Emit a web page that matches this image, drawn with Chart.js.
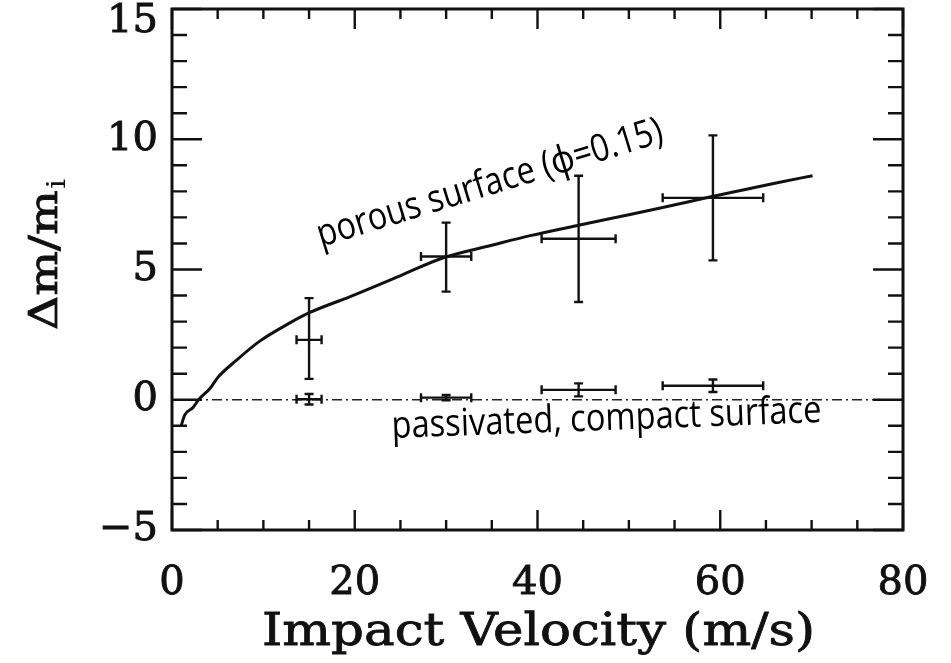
<!DOCTYPE html>
<html>
<head>
<meta charset="utf-8">
<script src="https://cdn.jsdelivr.net/npm/chart.js@4.4.0/dist/chart.umd.min.js"></script>
<style>
  html, body { margin: 0; padding: 0; background: #fff; }
  #wrap { width: 951px; height: 663px; }
</style>
</head>
<body>
<div id="wrap"><canvas id="impactChart"></canvas></div>
<script>
// model curve, porous surface (phi = 0.15)
const curveX = [1.0, 1.4, 2.3, 2.9, 4.2, 5.0, 7.0, 9.6, 12.9, 15.1, 19.5, 24.9, 29.7, 35, 39.2, 44.5, 50, 53.7, 59.1, 66.5, 70.1];
const curveY = [-1.0, -0.58, -0.3, 0.0, 0.45, 0.85, 1.5, 2.25, 2.95, 3.35, 3.96, 4.75, 5.45, 5.93, 6.3, 6.7, 7.1, 7.38, 7.8, 8.35, 8.6];

// passivated, compact surface reference line
const baseX = [0, 80];
const baseY = [0, 0];

// measurements on porous surface
const porousX = [15, 30, 44.5, 59.2];
const porousY = [2.3, 5.5, 6.18, 7.75];
const porousXErr = [1.37, 2.75, 4.05, 5.5];
const porousYLow = [0.8, 4.15, 3.75, 5.35];
const porousYHigh = [3.9, 6.8, 8.6, 10.15];

// measurements on passivated, compact surface
const compactX = [15, 30, 44.5, 59.2];
const compactY = [0.02, 0.08, 0.38, 0.54];
const compactXErr = [1.37, 2.75, 4.05, 5.5];
const compactYErr = [0.2, 0.1, 0.25, 0.24];

const xTickLabels = ['0', '20', '40', '60', '80'];
const yTickLabels = ['\u22125', '0', '5', '10', '15'];

const SERIF = '"DejaVu Serif", serif';
const SANS = '"Open Sans", "Noto Sans", sans-serif';

const toPoints = (xs, ys) => xs.map((x, i) => ({ x: x, y: ys[i] }));
const yValue = t => Number(t.replace('\u2212', '-'));

// draw text stretched to a target width, rotated about its start point
function fitText(ctx, text, x, y, font, width, angle, weight) {
  ctx.save();
  ctx.font = font;
  const w = ctx.measureText(text).width;
  ctx.translate(x, y);
  ctx.rotate(angle);
  ctx.scale(width / w, 1);
  ctx.fillText(text, 0, 0);
  if (weight) { ctx.lineWidth = weight; ctx.strokeText(text, 0, 0); }
  ctx.restore();
}

/* ====== ERROR BARS ====== */
const errorBarPlugin = {
  id: 'errorBars',
  afterDatasetsDraw(chart) {
    const { ctx, scales: { x, y } } = chart;
    const cap = 4.5;
    ctx.save();
    ctx.strokeStyle = '#111';
    ctx.lineWidth = 2.4;
    chart.data.datasets.forEach(ds => {
      if (!ds.err) return;
      ds.data.forEach((p, i) => {
        const px = x.getPixelForValue(p.x);
        const py = y.getPixelForValue(p.y);
        const xl = x.getPixelForValue(p.x - ds.err.xErr[i]);
        const xr = x.getPixelForValue(p.x + ds.err.xErr[i]);
        const yt = y.getPixelForValue(ds.err.yHigh[i]);
        const yb = y.getPixelForValue(ds.err.yLow[i]);
        ctx.beginPath();
        ctx.moveTo(xl, py); ctx.lineTo(xr, py);
        ctx.moveTo(xl, py - cap); ctx.lineTo(xl, py + cap);
        ctx.moveTo(xr, py - cap); ctx.lineTo(xr, py + cap);
        ctx.moveTo(px, yt); ctx.lineTo(px, yb);
        ctx.moveTo(px - cap, yt); ctx.lineTo(px + cap, yt);
        ctx.moveTo(px - cap, yb); ctx.lineTo(px + cap, yb);
        ctx.stroke();
      });
    });
    ctx.restore();
  }
};

/* ====== FRAME, INWARD TICKS, TITLES, NOTES ====== */
const framePlugin = {
  id: 'frame',
  afterDraw(chart) {
    const { ctx, chartArea: a, scales: { x, y } } = chart;
    ctx.save();
    ctx.strokeStyle = '#111';
    ctx.lineWidth = 2.4;
    ctx.beginPath();
    for (let v = 0; v <= 80; v += 5) {
      const px = x.getPixelForValue(v);
      const len = v % 20 === 0 ? 20 : 10;
      ctx.moveTo(px, a.bottom); ctx.lineTo(px, a.bottom - len);
      ctx.moveTo(px, a.top); ctx.lineTo(px, a.top + len);
    }
    for (let v = -5; v <= 15; v += 1) {
      const py = y.getPixelForValue(v);
      const len = v % 5 === 0 ? 30 : 15;
      ctx.moveTo(a.left, py); ctx.lineTo(a.left + len, py);
      ctx.moveTo(a.right, py); ctx.lineTo(a.right - len, py);
    }
    ctx.stroke();
    ctx.lineWidth = 3;
    ctx.strokeRect(a.left, a.top, a.right - a.left, a.bottom - a.top);

    ctx.fillStyle = '#111';
    ctx.strokeStyle = '#111';
    ctx.textBaseline = 'alphabetic';
    // x axis title
    fitText(ctx, 'Impact Velocity (m/s)', 262, 645, '44px ' + SERIF, 553, 0, 0.8);

    // y axis title with subscript
    ctx.save();
    ctx.translate(57, 330);
    ctx.rotate(-Math.PI / 2);
    ctx.font = '40px ' + SERIF;
    const main = '\u0394m/m';
    const mw = ctx.measureText(main).width;
    ctx.scale(140 / mw, 1);
    ctx.lineWidth = 0.8;
    ctx.fillText(main, 0, 0);
    ctx.strokeText(main, 0, 0);
    ctx.font = '26px ' + SERIF;
    ctx.fillText('i', mw + 1, 8);
    ctx.restore();

    // curve notes
    ctx.fillStyle = '#000';
    fitText(ctx, 'porous surface (\u03d5=0.15)', 321, 247, '38px ' + SANS, 360, -0.298);
    fitText(ctx, 'passivated, compact surface', 392, 438, '38px ' + SANS, 430, -0.037);
    ctx.restore();
  }
};

const ctx = document.getElementById('impactChart');
new Chart(ctx.getContext('2d'), {
  type: 'scatter',
  data: {
    datasets: [{
      label: 'porous surface',
      data: toPoints(curveX, curveY),
      showLine: true,
      borderColor: '#111',
      borderWidth: 3,
      pointRadius: 0,
      cubicInterpolationMode: 'monotone'
    }, {
      label: 'passivated, compact surface',
      data: toPoints(baseX, baseY),
      showLine: true,
      borderColor: '#222',
      borderWidth: 1.6,
      borderDash: [10, 4, 2, 4],
      pointRadius: 0
    }, {
      label: 'porous data',
      data: toPoints(porousX, porousY),
      pointRadius: 0,
      err: { xErr: porousXErr, yLow: porousYLow, yHigh: porousYHigh }
    }, {
      label: 'compact data',
      data: toPoints(compactX, compactY),
      pointRadius: 0,
      err: {
        xErr: compactXErr,
        yLow: compactY.map((v, i) => v - compactYErr[i]),
        yHigh: compactY.map((v, i) => v + compactYErr[i])
      }
    }]
  },
  options: {
    responsive: true,
    maintainAspectRatio: false,
    animation: false,
    layout: { padding: { top: 9, right: 48, left: 0, bottom: 0 } },
    plugins: { legend: { display: false }, tooltip: { enabled: false } },
    scales: {
      x: {
        type: 'linear', min: 0, max: 80,
        border: { display: false },
        grid: { display: false, drawTicks: false },
        afterBuildTicks: s => { s.ticks = xTickLabels.map(t => ({ value: Number(t) })); },
        afterFit: s => { s.height = 133; s.paddingLeft = 0; s.paddingRight = 0; },
        ticks: {
          color: '#111', padding: 30, maxRotation: 0,
          textStrokeColor: '#111', textStrokeWidth: 0.9,
          font: { family: SERIF, size: 40 },
          callback: v => xTickLabels[xTickLabels.indexOf(String(v))]
        }
      },
      y: {
        type: 'linear', min: -5, max: 15,
        border: { display: false },
        grid: { display: false, drawTicks: false },
        afterBuildTicks: s => { s.ticks = yTickLabels.map(t => ({ value: yValue(t) })); },
        afterFit: s => { s.width = 172; s.paddingTop = 0; s.paddingBottom = 0; },
        ticks: {
          color: '#111', padding: 14,
          textStrokeColor: '#111', textStrokeWidth: 0.9,
          // top label sits a little below its tick so it stays inside the figure
          font: c => ({ family: SERIF, size: 40, lineHeight: c.tick && c.tick.value === 15 ? 0.65 : 1.2 }),
          callback: v => {
            const t = yTickLabels.find(l => yValue(l) === v);
            return v === 15 ? ['', t] : t;
          }
        }
      }
    }
  },
  plugins: [errorBarPlugin, framePlugin]
});
</script>
</body>
</html>
